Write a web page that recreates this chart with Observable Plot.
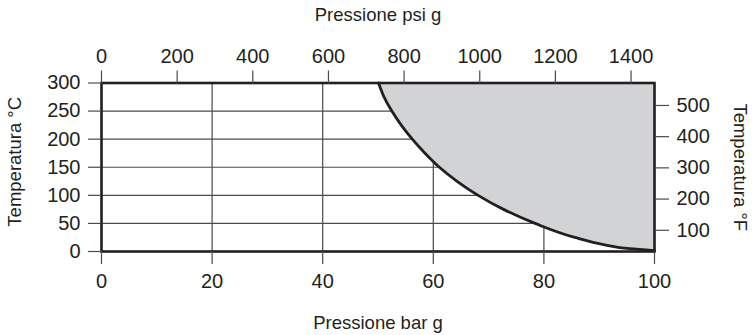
<!DOCTYPE html>
<html>
<head>
<meta charset="utf-8">
<script src="https://cdn.jsdelivr.net/npm/d3@7"></script>
<script src="https://cdn.jsdelivr.net/npm/@observablehq/plot@0.6"></script>
<style>
  html, body { margin: 0; padding: 0; background: #ffffff; }
</style>
</head>
<body>
<div id="chart"></div>
<script>
// Boundary curve (pressure in bar g, temperature in °C)
const curveBar  = [50.1, 51.1, 52.5, 54.2, 56.2, 58.5, 61.1, 64.3, 68.1, 72.7, 78.4, 85.6, 91.0, 95.5, 100];
const curveTemp = [300, 275, 250, 225, 200, 175, 150, 125, 100, 75, 50, 25, 12, 5, 1.5];

// Axes
const barTicks = [0, 20, 40, 60, 80, 100];
const celsiusTicks = [0, 50, 100, 150, 200, 250, 300];
const psiTicks = [0, 200, 400, 600, 800, 1000, 1200, 1400];
const fahrenheitTicks = [100, 200, 300, 400, 500];
const gridBar = [20, 40, 60, 80];
const gridCelsius = [50, 100, 150, 200, 250];
const psiPerBar = 14.62;
const barMax = 100;

const titles = {
  top: "Pressione psi g",
  bottom: "Pressione bar g",
  left: "Temperatura °C",
  right: "Temperatura °F"
};

const curve = curveBar.map((b, i) => ({bar: b, temp: curveTemp[i]}));
const psiPos = psiTicks.map(p => p / psiPerBar);
const fPos = fahrenheitTicks.map(f => (f - 32) / 1.8);
const fLabel = new Map(fPos.map((c, i) => [c, String(fahrenheitTicks[i])]));

const ink = "#231f20";
const gridColor = "#4a4a4c";
const font = "'Liberation Sans', Arial, Helvetica, sans-serif";

const chart = Plot.plot({
  width: 752,
  height: 335,
  marginLeft: 101,
  marginRight: 98,
  marginTop: 82.5,
  marginBottom: 84,
  x: {domain: [0, 100]},
  y: {domain: [0, 300]},
  style: {fontFamily: font, fontSize: "20px", color: ink, background: "#ffffff", overflow: "visible"},
  marks: [
    Plot.ruleX(gridBar, {stroke: gridColor, strokeWidth: 1.2}),
    Plot.ruleY(gridCelsius, {stroke: gridColor, strokeWidth: 1.2}),
    Plot.areaX(curve, {x1: "bar", x2: () => barMax, y: "temp", fill: "#d1d3d4", curve: "monotone-y"}),
    Plot.line(curve, {x: "bar", y: "temp", stroke: ink, strokeWidth: 2.8, curve: "monotone-y"}),
    Plot.frame({stroke: ink, strokeWidth: 2.6}),
    Plot.axisX(barTicks, {anchor: "bottom", tickSize: 13, tickPadding: 9, stroke: gridColor, strokeWidth: 1.2, label: null, fill: ink}),
    Plot.axisX(psiPos, {anchor: "top", tickSize: 13, tickPadding: 7, stroke: gridColor, strokeWidth: 1.2, label: null, fill: ink,
      tickFormat: d => String(Math.round(d * psiPerBar))}),
    Plot.axisY(celsiusTicks, {anchor: "left", tickSize: 13, tickPadding: 8, stroke: gridColor, strokeWidth: 1.2, label: null, fill: ink}),
    Plot.axisY(fPos, {anchor: "right", tickSize: 14, tickPadding: 8, stroke: gridColor, strokeWidth: 1.2, label: null, fill: ink,
      tickFormat: d => fLabel.get(d)}),
    Plot.text([titles.top], {frameAnchor: "top", dy: -62.5, lineAnchor: "bottom", fontSize: 18.5, fill: ink}),
    Plot.text([titles.bottom], {frameAnchor: "bottom", dy: 77, lineAnchor: "bottom", fontSize: 18.5, fill: ink}),
    Plot.text([titles.left], {frameAnchor: "left", rotate: -90, textAnchor: "middle", dx: -94, dy: -5.5, lineAnchor: "top", fontSize: 18.5, fill: ink}),
    Plot.text([titles.right], {frameAnchor: "right", rotate: 90, textAnchor: "middle", dx: 92.5, lineAnchor: "top", fontSize: 18.5, fill: ink})
  ]
});
document.getElementById("chart").appendChild(chart);
</script>
</body>
</html>
